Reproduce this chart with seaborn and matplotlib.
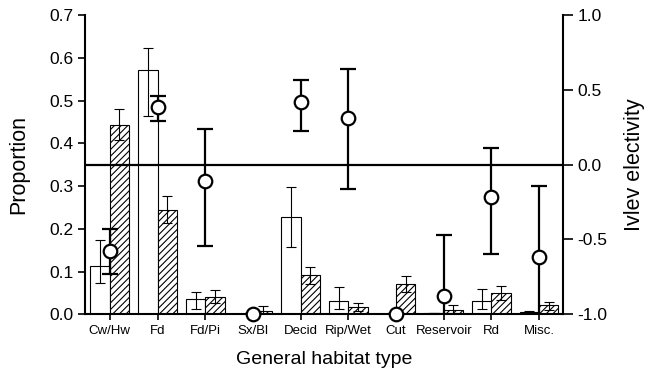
import numpy as np
import pandas as pd
import matplotlib
matplotlib.use("Agg")
import matplotlib.pyplot as plt
import seaborn as sns

# Habitat categories
habitats = ["Cw/Hw", "Fd", "Fd/Pi", "Sx/Bl", "Decid", "Rip/Wet", "Cut",
            "Reservoir", "Rd", "Misc."]

# Proportion of habitat available (open bars) with confidence limits
avail = [0.113, 0.571, 0.036, 0.0, 0.227, 0.031, 0.0, 0.002, 0.031, 0.005]
avail_lo = [0.074, 0.464, 0.012, 0.0, 0.158, 0.012, 0.0, 0.002, 0.012, 0.003]
avail_hi = [0.174, 0.622, 0.051, 0.0, 0.297, 0.063, 0.0, 0.002, 0.060, 0.008]

# Proportion of habitat used (hatched bars) with confidence limits
used = [0.443, 0.244, 0.041, 0.008, 0.092, 0.016, 0.070, 0.011, 0.049, 0.021]
used_lo = [0.408, 0.214, 0.026, 0.0, 0.071, 0.008, 0.051, 0.003, 0.033, 0.010]
used_hi = [0.480, 0.277, 0.057, 0.019, 0.111, 0.026, 0.089, 0.021, 0.066, 0.029]

# Ivlev electivity index with confidence limits
ivlev = [-0.58, 0.383, -0.109, -1.0, 0.421, 0.314, -1.0, -0.880, -0.214, -0.614]
ivlev_lo = [-0.73, 0.294, -0.545, -1.0, 0.227, -0.163, -1.0, -1.29, -0.599, -1.085]
ivlev_hi = [-0.43, 0.461, 0.238, -1.0, 0.566, 0.641, -1.0, -0.470, 0.113, -0.143]

sns.set_style("ticks", rc={
    "axes.edgecolor": "black", "axes.labelcolor": "black",
    "text.color": "black", "xtick.color": "black", "ytick.color": "black",
})
plt.rcParams["font.family"] = ["Liberation Sans", "DejaVu Sans"]
plt.rcParams["hatch.linewidth"] = 0.8
plt.rcParams["hatch.color"] = "black"

df = pd.DataFrame({
    "habitat": habitats * 2,
    "value": avail + used,
    "kind": ["available"] * len(habitats) + ["used"] * len(habitats),
})

fig = plt.figure(figsize=(6.45, 3.77), dpi=100)
ax = fig.add_axes([85 / 645, 1 - 314.3 / 377, 478 / 645, (314.3 - 15) / 377])

sns.barplot(data=df, x="habitat", y="value", hue="kind",
            palette=["white", "white"], edgecolor="black", linewidth=0.8,
            width=0.81, gap=0, errorbar=None, legend=False, ax=ax)

# hatch the "used" bars
for patch in ax.containers[1]:
    patch.set_hatch("/////")

# confidence intervals on the bars, placed at the bar centres
for cont, vals, lo, hi in [(ax.containers[0], avail, avail_lo, avail_hi),
                           (ax.containers[1], used, used_lo, used_hi)]:
    xs = [p.get_x() + p.get_width() / 2 for p in cont]
    v = np.array(vals)
    yerr = np.vstack([v - np.array(lo), np.array(hi) - v])
    ax.errorbar(xs, v, yerr=yerr, fmt="none", ecolor="black",
                elinewidth=0.8, capsize=3.8, capthick=0.8, zorder=3)

ax.set_xlim(-0.52, 9.5)
ax.set_ylim(0, 0.7)
ax.set_yticks(np.arange(0, 0.71, 0.1))
ax.set_yticklabels([f"{t:.1f}" for t in np.arange(0, 0.71, 0.1)])
ax.set_xlabel("General habitat type", fontsize=14, labelpad=10)
ax.set_ylabel("Proportion", fontsize=15.5, labelpad=14)
ax.tick_params(axis="y", labelsize=12.5, length=5, width=1.2, direction="out")
ax.tick_params(axis="x", labelsize=9.5, length=4, width=1.2, direction="out", pad=4)
ax.spines["top"].set_visible(False)
ax.spines["right"].set_visible(False)
for s in ["left", "bottom"]:
    ax.spines[s].set_linewidth(1.5)

# Ivlev electivity on a secondary axis
ax2 = ax.twinx()
ax2.set_ylim(-1.0, 1.0)
ax2.axhline(0, color="black", linewidth=1.6, zorder=1)
iv = np.array(ivlev)
iv_err = np.vstack([iv - np.array(ivlev_lo), np.array(ivlev_hi) - iv])
xpos = np.arange(len(habitats))
ax2.errorbar(xpos, iv, yerr=iv_err, fmt="none", ecolor="black",
             elinewidth=1.6, capsize=6, capthick=1.6, zorder=2)
sns.scatterplot(x=xpos, y=iv, ax=ax2, s=95, color="white",
                edgecolor="black", linewidth=1.6, zorder=4, clip_on=False,
                legend=False)
ax2.set_yticks([-1.0, -0.5, 0.0, 0.5, 1.0])
ax2.set_yticklabels(["-1.0", "-0.5", "0.0", "0.5", "1.0"])
ax2.set_ylabel("Ivlev electivity", fontsize=15.5, labelpad=12)
ax2.tick_params(axis="y", labelsize=12.5, length=7, width=1.2, direction="out")
ax2.spines["top"].set_visible(False)
ax2.spines["left"].set_visible(False)
ax2.spines["bottom"].set_visible(False)
ax2.spines["right"].set_linewidth(1.5)
ax2.set_xlim(-0.52, 9.5)

fig.savefig("out.png", dpi=100)
